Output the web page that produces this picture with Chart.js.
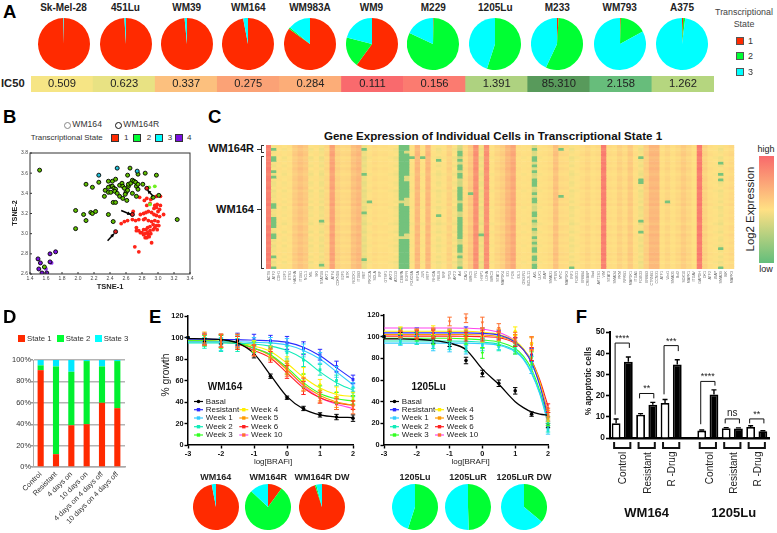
<!doctype html>
<html><head><meta charset="utf-8">
<style>
html,body{margin:0;padding:0;background:#fff;overflow:hidden}
#stage{position:relative;width:777px;height:533px;overflow:hidden;font-family:"Liberation Sans",Arial,sans-serif}
canvas{position:absolute}
.t{position:absolute;white-space:nowrap;line-height:1}
.b{position:absolute}
</style>
<script src="https://cdn.jsdelivr.net/npm/chart.js@4"></script>
</head><body><div id="stage"></div>
<script>
/* ---------- DATA ---------- */
const lineNames=['Sk-Mel-28','451Lu','WM39','WM164','WM983A','WM9','M229','1205Lu','M233','WM793','A375'];
const lineState1=[99.6,99,98.5,97,85,60,0.4,0,1,0.5,0.7];
const lineState2=[0,0,0,0,1,19,81.6,55,56,16.5,1.3];
const lineState3=[0.4,1,1.5,3,14,21,18,45,43,83,98];
const ic50Values=['0.509','0.623','0.337','0.275','0.284','0.111','0.156','1.391','85.310','2.158','1.262'];
const ic50Colors=['#f6e585','#e8e283','#fcc07e','#fba276','#fcad78','#f96a6d','#fb7b70','#aed280','#589a5b','#67bd7b','#b5d67f'];

const subNames=['WM164','WM164R','WM164R DW','1205Lu','1205LuR','1205LuR DW'];
const subState1=[97,10,95,0,0,0];
const subState2=[0,77,1,55,49.5,36];
const subState3=[3,13,4,45,50.5,64];

const tsneRed=[[2.71,2.87],[2.76,2.82],[2.92,2.91],[2.89,2.97],[2.84,2.96],[2.86,2.96],[2.88,2.99],[2.82,2.99],[2.78,3.01],[2.80,3.01],[2.84,3.00],[2.87,3.01],[2.91,3.00],[2.90,3.03],[2.94,3.04],[2.96,3.06],[2.99,3.04],[2.85,3.04],[2.82,3.04],[2.76,3.03],[2.73,3.06],[2.73,3.03],[2.87,3.06],[2.90,3.07],[2.94,3.09],[2.98,3.08],[3.01,3.08],[3.00,3.12],[2.96,3.13],[2.92,3.12],[2.88,3.13],[2.84,3.15],[2.82,3.14],[2.76,3.14],[2.72,3.13],[2.62,3.13],[2.58,3.12],[2.54,3.10],[2.68,3.14],[2.69,3.22],[2.78,3.19],[2.82,3.20],[2.85,3.21],[2.88,3.22],[2.92,3.21],[2.95,3.19],[2.98,3.18],[3.02,3.17],[3.07,3.19],[3.00,3.22],[2.95,3.25],[2.98,3.26],[3.03,3.28],[2.96,3.28],[3.02,3.24],[2.99,3.29],[2.90,3.30],[2.86,3.28],[2.83,3.33],[2.91,3.34],[2.86,3.35],[3.03,3.37],[2.77,3.36],[2.98,3.37]];
const tsneLime=[[2.89,3.46],[2.96,3.47],[2.90,3.29],[2.93,3.36]];
const tsnePurplePlain=[[1.67,2.71],[1.60,2.65]];
const tsneGreenEdge=[[1.52,3.63],[2.10,3.49],[2.18,3.46],[2.26,3.51],[2.38,3.52],[2.43,3.52],[2.47,3.54],[2.41,3.47],[2.38,3.46],[2.34,3.43],[2.33,3.37],[2.38,3.41],[2.41,3.41],[2.43,3.47],[2.45,3.45],[2.47,3.44],[2.46,3.42],[2.49,3.40],[2.52,3.48],[2.55,3.50],[2.56,3.47],[2.58,3.45],[2.60,3.41],[2.62,3.43],[2.59,3.39],[2.63,3.47],[2.63,3.49],[2.66,3.50],[2.68,3.53],[2.70,3.52],[2.72,3.51],[2.73,3.47],[2.75,3.44],[2.75,3.49],[2.68,3.40],[2.73,3.37],[2.52,3.37],[2.56,3.35],[2.61,3.33],[2.44,3.31],[2.47,3.31],[2.62,3.58],[2.65,3.65],[2.75,3.59],[2.84,3.60],[2.98,3.58],[2.81,3.49],[3.01,3.38],[2.94,3.36],[1.97,3.23],[2.07,3.19],[2.16,3.21],[2.18,3.20],[2.22,3.22],[2.38,3.19],[2.10,3.13],[2.44,3.12],[1.97,3.05],[3.24,3.14],[1.58,2.67]];
const tsneCyanEdge=[[2.26,3.58],[2.49,3.65],[2.74,3.62]];
const tsneRedEdge=[[2.86,3.45],[2.68,3.19],[2.47,3.02]];
const tsnePurpleEdge=[[1.50,2.75],[1.53,2.71],[1.51,2.65],[1.65,2.80],[1.72,2.82],[1.65,2.72],[1.55,2.61],[1.61,2.61]];
const tsneArrowTail=[[2.37,2.93],[2.54,3.23],[2.94,3.37]];
const tsneArrowTip=[[2.45,3.00],[2.66,3.19],[2.87,3.43]];

const geneNames=['ACTB','ATF2','CDH1','E2F1','ETS1','HADHA','ITGB1','NCL1','MIL','SKI','STAT5B','AKT1','ATF4','CDKN1B','E2F5','BTK','ROCK1','ITGB3','MET','PIK3CA','SOLA','IRF','GTSF1','AKT3','ATG13','CEBPA','EGFR','FOXO3A','HIF1A','JUN','MITF','RHOA','RELB','SRF','TP53','AKT2','Axl','CAV1','BIRC5','FN1','HSP1','LDHA','BIRC3','STAT1','MAP2K4','ID1','FOS','IDL1','OSGIN1','BCL2L11','AXL','ULK1','XIAP','SMAD1','PTEN','MYC','MAP2K3','IRF1','FOXO1','ERBB4','CREBBP','Bad','AKT1S1','VIM','STAT3','SMAD4','PKM','NFKB1','MAP2K1','ITGA5','FOXO3','ERBB3','CTNNB1','CCND1','ATF1','Wnt1','SMAD5','Bcl2','SOX10','MAPK1','ITGAV','GAPDH','DK1','ATF2','XIAP','SMAD9','BIK','MAPK3'];
const geneLevels=[.92,.45,.52,.48,.52,.63,.68,.64,.47,.52,.45,.57,.8,.6,.56,.57,.68,.72,.42,.5,.55,.52,.53,.5,.47,.03,.03,.5,.72,.5,.72,.5,.46,.5,.6,.47,.32,.55,.65,.86,.45,.86,.5,.58,.62,.72,.78,.53,.5,.52,.35,.5,.52,.55,.68,.56,.55,.46,.5,.54,.58,.52,.55,.92,.55,.53,.6,.55,.64,.53,.45,.62,.72,.72,.53,.58,.52,.57,.63,.58,.52,.93,.6,.53,.5,.46,.53,.56];
const rowTint=[.02,-.01,.01,.03,-.02,0,.02,-.01,.03,0,-.02,.01,.02,-.01,0,.03,-.02,.01,0,.02,-.01,.03,-.02,0,.01,-.01,.02,0,-.03,.02,.01,-.02,.03,0,-.01,.02,-.02,.01,0,.03,-.01,.02,-.02,.01,0];
const lowCol1=[1,4,5,9,11,21,22,26,27,28,29,32,33,40,44];
const lowCol10=[27,43];
const lowCol18=[1,10,24,41];
const lowCol19=[20];
const lowCol27=[4];
const lowCol29=[4];
const lowCol32=[5,25];
const lowCol36=[2,3,5,7,8,10,11,15,16,17,18,19,21,22,23,26,27,28,29,30,31,32,33,36,37,38,40,44];
const lowCol38=[17];
const lowCol40=[32];
const lowCol50=[1,4,5,7,9,12,13,14,17,19,20,24,25,27,30,33,35,37,38,40,41,43,44];
const lowCol55=[1,18];
const lowCol57=[44];
const lowCol70=[4,12,13,27,31];
const lowCol75=[20];
const lowCol85=[6,10,12,37,44];
const paleCol26=[2,11,12,19,20,21,32,33];
const paleCol25=[20,33];

const dStages=['Control','Resistant','4 days on','10 days on','4 days on 4 days off','10 days on 4 days off'];
const dState1=[90.5,12,39,40,60,55];
const dState2=[4.5,82,50,59,34,44];
const dState3=[5,6,11,1,6,1];

const seriesNames=['Basal','Resistant','Week 1','Week 2','Week 3','Week 4','Week 5','Week 6','Week 10'];
const doseMarks=[-3,-2.5,-2,-1.5,-1,-.5,0,.5,1,1.5,2];
const wm164Grid=[-3,-2.5,-2,-1.5,-1,-.5,0,.5,1,1.5,2];
const wm164FitBasal=[99,98.8,98,95,85,65,45,33.5,28,26,25.5];
const wm164FitResistant=[98.5,98.4,98.2,98,97.5,97,95.5,91,83,72,61];
const wm164FitW1=[96,96,96,96,95.5,95,93,88,80,68,56];
const wm164FitW2=[95,95,95,94.5,94,92,88,80,68,58,51];
const wm164FitW3=[97,97,96.5,95,90,84,72,58,48,43,41];
const wm164FitW4=[97,97,96.5,95.5,92,87,76,63,53,47,45];
const wm164FitW5=[97,97,96,94,90,83,70,56,46,40,37];
const wm164FitW6=[97,97,96,94,88,81,67,53,44,39,37];
const wm164FitW10=[97,97,96,94.5,90,84,70,55,44,38,34];
const wm164PtBasal=[100,96,98,97,84,64,44,34,28,26,25];
const wm164PtResistant=[100,99,97,98,98,97,95,90,84,73,61];
const wm164PtW1=[100,97,94,96,95,95,93,88,81,68,54];
const wm164PtW2=[100,95,93,93,92,90,86,79,70,60,49];
const wm164PtW3=[100,97,96,95,91,86,72,60,50,44,42];
const wm164PtW4=[100,98,97,95,92,87,76,66,56,49,45];
const wm164PtW5=[100,100,97,97,88,84,72,57,46,40,37];
const wm164PtW6=[100,98,97,95,88,82,68,53,44,38,37];
const wm164PtW10=[100,98,97,97,88,85,70,56,44,38,33];
const wm164ErrBasal=[0,3,4,4,3,2,1.5,2,2,2.5,3];
const wm164ErrOther=[0,5,6,6,5,5,6,6,5,5,4];

const luGrid=[-3,-2.5,-2,-1.5,-1,-.5,0,.5,1,1.25,1.5,1.75,2];
const luFitBasal=[98,98,97.5,96.5,94,88,70,56,40,34.5,30.5,28.5,27.5];
const luFitResistant=[103.5,103.5,103.5,103.5,103.5,103.5,103,101.5,95,88,76,55,26];
const luFitW1=[94,94,94,94,94,94,93.5,92,86,79,66,47,20];
const luFitW2=[96,96,96,96,96,95.8,95,93,87,80,67,48,22];
const luFitW3=[98.5,98.5,98.5,98.5,98.5,98,97,95,89,82,70,50,24];
const luFitW4=[105,105,105,105,105,105,104,102,96,89,77,57,26];
const luFitW5=[102,102,102,102,102,102,101.5,100,95,88,77,58,29];
const luFitW6=[100.5,100.5,100.5,100.5,100.5,100.3,100,99,94,88,78,60,36];
const luFitW10=[108,108,108,108,108,107.8,107,104,96,88,76,56,30];
const luPtBasal=[100,101,101,97,94,78,66,57,50,28.5,18];
const luPtResistant=[100,104,104,103,103,105,103,102,95,83,26];
const luPtW1=[100,95,97,91,90,88,92,92,88,72,14];
const luPtW2=[100,96,97,93,92,90,94,91,90,76,16];
const luPtW3=[100,105,100,97,100,97,85,96,88,80,22];
const luPtW4=[100,106,103,106,103,103,100,100,105,94,26];
const luPtW5=[100,103,102,103,102,102,103,103,98,93,28];
const luPtW6=[100,102,102,102,101,100,101,101,95,84,34];
const luPtW10=[100,102,103,104,114,117,113,108,100,94,30];
const luErrBasal=[0,3,3,3,3,3,3,3,3,2,2];
const luErrOther=[0,3,4,4,4,4,5,4,4,6,4];

const fBars=[7,36,11,15.7,16.5,34.7,null,3.5,20.5,4.6,4.5,5.2,3.2];
const fErrs=[2,2.2,.5,1.1,1.7,2.2,null,.3,2.2,.3,.3,.6,.2];
const fSlots=['c','c','r','r','d','d','','c','c','r','r','d','d'];
const sigFrom=[0,2,4,7,9,11];
const sigTo=[1,3,5,8,10,12];
const sigTop=[44.8,21,43.6,26.7,9,9];
const sigFootL=[11,18.7,20.6,6.5,6.9,6.9];
const sigFootR=[42.5,18.7,41,24.7,6.9,6.9];
const sigText=['****','**','***','****','ns','**'];

/* ---------- STYLE ---------- */
const RED='#ff2a00',GREEN='#00ff33',CYAN='#00ffff',PURPLE='#7a10e0';
const seriesColors=['#000000','#2a2aff','#33ccff','#10ecb8','#33ff22','#ffee00','#ff9a00','#ff2020','#ff44ee'];
const markColors=['#000000','#2a2aff','#33ccff','#10ecb8','#33ff22','#ffee00','#ff9a00','#ff2020','#ff7030'];
const markStyles=['circle','rect','rect','rect','triangle','rectRot','rect','triangle','triangle'];
const markRot=[0,0,0,0,180,0,0,0,180];
const stage=document.getElementById('stage');
Chart.defaults.animation=false;
Chart.defaults.responsive=false;
Chart.defaults.maintainAspectRatio=false;
Chart.defaults.font.family='"Liberation Sans",Arial,sans-serif';
Chart.defaults.plugins.legend.display=false;
Chart.defaults.plugins.tooltip.enabled=false;

function text(x,y,s,o={}){
  const d=document.createElement('div');d.className='t';d.textContent=s;
  const a=o.align||'center';
  const tx=a==='center'?'-50%':a==='left'?'0':'-100%';
  d.style.cssText=`left:${x}px;top:${y}px;font-size:${o.size||8}px;font-weight:${o.bold?'bold':'normal'};color:${o.color||'#111'};transform:translate(${tx},-50%) rotate(${o.rot||0}deg);`;
  stage.appendChild(d);
}
function box(x,y,w,h,c,extra=''){
  const d=document.createElement('div');d.className='b';
  d.style.cssText=`left:${x}px;top:${y}px;width:${w}px;height:${h}px;background:${c};${extra}`;
  stage.appendChild(d);
}
function canvasAt(x,y,w,h){
  const c=document.createElement('canvas');c.width=w;c.height=h;
  c.style.left=x+'px';c.style.top=y+'px';c.style.width=w+'px';c.style.height=h+'px';
  stage.appendChild(c);return c.getContext('2d');
}
function pie(cx,cy,r,vals){
  const ctx=canvasAt(cx-r,cy-r,2*r,2*r);
  new Chart(ctx,{type:'pie',data:{datasets:[{data:vals,backgroundColor:[RED,GREEN,CYAN],borderWidth:0}]},
    options:{layout:{padding:0}}});
}
function plot(rect,pad,cfg){
  const [x0,y0,x1,y1]=rect;
  const ctx=canvasAt(Math.round(x0-pad.l),Math.round(y0-pad.t),Math.round(x1-x0+pad.l+pad.r),Math.round(y1-y0+pad.t+pad.b));
  const o=cfg.options=cfg.options||{};
  const p={top:pad.t,right:pad.r,left:0,bottom:0};
  const sc=o.scales;
  if(sc.y.display===false)p.left=pad.l;else sc.y.afterFit=s=>{s.width=pad.l;};
  if(sc.x.display===false)p.bottom=pad.b;else sc.x.afterFit=s=>{s.height=pad.b;};
  o.layout={padding:p};
  return new Chart(ctx,cfg);
}
const errorBars={id:'errorBars',afterDatasetsDraw(c){
  const g=c.ctx,ys=c.scales.y;
  c.data.datasets.forEach((d,i)=>{
    if(!d.errs)return;
    const m=c.getDatasetMeta(i);
    g.save();g.strokeStyle=d.errColor||d.pointBackgroundColor||'#000';g.lineWidth=d.errWidth||1;
    m.data.forEach((el,k)=>{
      const e=d.errs[k];if(e==null||!e)return;
      const v=m._parsed[k].y;
      if(v==null)return;
      const t=ys.getPixelForValue(v+e),b=d.errUpOnly?ys.getPixelForValue(v):ys.getPixelForValue(v-e),cw=d.capHalf||2.2;
      g.beginPath();g.moveTo(el.x,t);g.lineTo(el.x,b);
      g.moveTo(el.x-cw,t);g.lineTo(el.x+cw,t);
      if(!d.errUpOnly){g.moveTo(el.x-cw,b);g.lineTo(el.x+cw,b);}
      g.stroke();
    });
    g.restore();
  });
}};

/* ---------- PANEL A ---------- */
text(3,11.5,'A',{size:18.5,bold:true,color:'#000',align:'left'});
const pieX=[63.5,125.5,186.7,248.3,310,371.5,433.3,495.3,557.3,619.7,682];
lineNames.forEach((n,i)=>{
  text(pieX[i],8.3,n,{size:10,bold:true,color:'#222'});
  pie(pieX[i],43.7,26,[lineState1[i],lineState2[i],lineState3[i]]);
});
text(1,84,'IC50',{size:11.2,bold:true,align:'left',color:'#222'});
plot([31,76,714,92],{l:0,t:0,r:0,b:0},{type:'bar',
  data:{labels:lineNames,datasets:[{data:ic50Values.map(()=>[0,1]),backgroundColor:ic50Colors,borderWidth:0,barPercentage:1,categoryPercentage:1}]},
  options:{scales:{x:{display:false},y:{display:false,min:0,max:1}}}});
ic50Values.forEach((v,i)=>text(31+683*(i+.5)/11,84,v,{size:11.2,color:'#222'}));
text(744,12,'Transcriptional',{size:8.9,color:'#444'});
text(744,24,'State',{size:8.9,color:'#444'});
[[RED,'1',40.7],[GREEN,'2',56],[CYAN,'3',72]].forEach(a=>{
  box(735.5,a[2]-4,8,8,a[0],'border:.5px solid #555;box-sizing:border-box;');
  text(748,a[2],a[1],{size:9,color:'#333',align:'left'});
});

/* ---------- PANEL B ---------- */
text(3,116.7,'B',{size:18.5,bold:true,color:'#000',align:'left'});
box(64.2,121.5,5,5,'#fff','border:.8px solid #888;border-radius:50%;');
text(72.3,124,'WM164',{size:8.6,color:'#333',align:'left'});
box(114.8,121.5,5,5,'#fff','border:1px solid #111;border-radius:50%;');
text(123.3,124,'WM164R',{size:8.6,color:'#333',align:'left'});
text(30.7,137.7,'Transcriptional State',{size:7.9,color:'#333',align:'left'});
[[RED,111,'1',124],[GREEN,133,'2',146.7],[CYAN,155,'3',167.7],[PURPLE,174.7,'4',187]].forEach(a=>{
  box(a[1],133.7,8,8,a[0],'border:.5px solid #333;box-sizing:border-box;');
  text(a[3],137.7,a[2],{size:8,color:'#333',align:'left'});
});
const arrows={id:'arrows',afterDraw(c){
  const g=c.ctx,X=c.scales.x,Y=c.scales.y,A=c.chartArea;
  g.save();g.strokeStyle='#333';g.lineWidth=1;g.strokeRect(A.left,A.top,A.width,A.height);
  X.ticks.forEach(t=>{const p=X.getPixelForValue(t.value);g.beginPath();g.moveTo(p,A.bottom);g.lineTo(p,A.bottom-2);g.stroke();});
  Y.ticks.forEach(t=>{const p=Y.getPixelForValue(t.value);g.beginPath();g.moveTo(A.left,p);g.lineTo(A.left+2,p);g.stroke();});
  g.strokeStyle='#000';g.fillStyle='#000';g.lineWidth=1.5;
  tsneArrowTail.forEach((a,i)=>{
    const x0=X.getPixelForValue(a[0]),y0=Y.getPixelForValue(a[1]),x1=X.getPixelForValue(tsneArrowTip[i][0]),y1=Y.getPixelForValue(tsneArrowTip[i][1]);
    const an=Math.atan2(y1-y0,x1-x0);
    g.beginPath();g.moveTo(x0,y0);g.lineTo(x1,y1);g.stroke();
    g.beginPath();g.moveTo(x1,y1);g.lineTo(x1-4*Math.cos(an-.5),y1-4*Math.sin(an-.5));g.lineTo(x1-4*Math.cos(an+.5),y1-4*Math.sin(an+.5));g.closePath();g.fill();
  });
  g.restore();
}};
function scat(data,fill,edge,r,order){return {data,backgroundColor:fill,borderColor:edge||fill,borderWidth:edge?0.9:0,pointRadius:r,order};}
plot([29.7,151.7,189.3,273.3],{l:20,t:4,r:8,b:10},{type:'scatter',
  data:{datasets:[
    scat(tsneRedEdge,'#e02020','#000',2,1),
    scat(tsneCyanEdge,'#20c0d8','#000',2,2),
    scat(tsnePurpleEdge,PURPLE,'#000',2,3),
    scat(tsneGreenEdge,'#60c000','#000',2,4),
    scat(tsneLime,'#70f020',null,1.9,5),
    scat(tsnePurplePlain,'#9030f0',null,1.9,6),
    scat(tsneRed,'#ff2418',null,1.9,7)
  ]},
  options:{plugins:{},scales:{
    x:{type:'linear',min:1.4,max:3.4,grid:{display:false,drawTicks:false},border:{display:false},ticks:{stepSize:.2,font:{size:5},color:'#444',padding:2,maxRotation:0,autoSkip:false}},
    y:{type:'linear',min:2.6,max:3.8,grid:{display:false,drawTicks:false},border:{display:false},ticks:{stepSize:.2,font:{size:5},color:'#444',padding:2,autoSkip:false}}
  }},plugins:[arrows]});
text(110,287.3,'TSNE-1',{size:7.5,bold:true,color:'#222'});
text(14.7,213,'TSNE-2',{size:7.2,bold:true,color:'#222',rot:-90});

/* ---------- PANEL C ---------- */
text(208,116.7,'C',{size:18.5,bold:true,color:'#000',align:'left'});
text(493,136,'Gene Expression of Individual Cells in Transcriptional State 1',{size:11.6,bold:true,color:'#111'});
text(254,148,'WM164R',{size:11,bold:true,align:'right',color:'#111'});
text(254,208.7,'WM164',{size:11,bold:true,align:'right',color:'#111'});
[[261,156,1,112.6],[261,156,3,1],[261,268,3,1],[257,208.5,4,1],[261,145,1,7],[261,145,3,1],[261,152,3,1],[257,148.5,4,1]].forEach(b=>box(b[0],b[1],b[2],b[3],'#333'));
const lowByCol={1:lowCol1,10:lowCol10,18:lowCol18,19:lowCol19,27:lowCol27,29:lowCol29,32:lowCol32,36:lowCol36,38:lowCol38,40:lowCol40,50:lowCol50,55:lowCol55,57:lowCol57,70:lowCol70,75:lowCol75,85:lowCol85};
const paleByCol={25:paleCol25,26:paleCol26};
function heatColor(v){
  const s=[[99,190,123],[254,226,132],[248,105,107]];
  v=Math.max(0,Math.min(1,v));
  const i=v<.5?0:1;
  let f=v<.5?v*2:(v-.5)*2;
  f=i?Math.pow(f,1.35):Math.pow(f,.8);
  const m=k=>Math.round(s[i][k]+(s[i+1][k]-s[i][k])*f);
  return `rgb(${m(0)},${m(1)},${m(2)})`;
}
const heatRows=rowTint.map((tint,r)=>geneLevels.map((lvl,c)=>{
  if(lowByCol[c]&&lowByCol[c].includes(r))return .04;
  if(paleByCol[c]&&paleByCol[c].includes(r))return .38;
  return lvl<.1?lvl:lvl+tint;
}));
plot([266,145.3,737.7,269],{l:0,t:0,r:0,b:18},{type:'bar',
  data:{labels:geneNames,datasets:heatRows.map(row=>({data:row.map(()=>1),backgroundColor:row.map(heatColor),borderWidth:0,barPercentage:1,categoryPercentage:1}))},
  options:{scales:{
    x:{stacked:true,grid:{display:false,drawTicks:false},border:{display:false},ticks:{autoSkip:false,minRotation:90,maxRotation:90,font:{size:3.6},color:'#666',padding:2}},
    y:{display:false,stacked:true,reverse:true,min:0,max:heatRows.length}
  }}});
box(758.7,156,15.3,106.7,'linear-gradient(to bottom,#f8696b,#ffe084 50%,#63be7b)');
text(766,149.3,'high',{size:9,color:'#222'});
text(766,269,'low',{size:9,color:'#222'});
text(751,209,'Log2 Expression',{size:11.4,color:'#222',rot:-90});

/* ---------- PANEL D ---------- */
text(3,317,'D',{size:18.5,bold:true,color:'#000',align:'left'});
[[RED,18.3,27,'State 1'],[GREEN,57.3,65.7,'State 2'],[CYAN,95.3,103.7,'State 3']].forEach(a=>{
  box(a[1],335,6.7,7,a[0]);
  text(a[2],338.6,a[3],{size:7.8,color:'#333',align:'left'});
});
plot([33,360.3,125,467.7],{l:30,t:5,r:4,b:62},{type:'bar',
  data:{labels:dStages,datasets:[
    {data:dState1,backgroundColor:RED,borderWidth:0},
    {data:dState2,backgroundColor:'#00f030',borderWidth:0},
    {data:dState3,backgroundColor:'#00e8ff',borderWidth:0}
  ].map(d=>Object.assign(d,{barPercentage:.4,categoryPercentage:1}))},
  options:{scales:{
    x:{stacked:true,grid:{display:false,drawOnChartArea:false,tickLength:2,tickColor:'#999'},border:{color:'#aaa',width:1.5},ticks:{autoSkip:false,minRotation:45,maxRotation:45,font:{size:7.4},color:'#333',padding:1}},
    y:{stacked:true,min:0,max:100,grid:{color:'#b4b4b4',lineWidth:1.4,tickLength:2,tickColor:'#999'},border:{color:'#aaa'},ticks:{stepSize:10,font:{size:7.4},color:'#333',padding:0,callback:v=>v+'%'}}
  }}});

/* ---------- PANEL E ---------- */
text(149,317,'E',{size:18.5,bold:true,color:'#000',align:'left'});
const legendRows=[[0,0,0],[1,0,1],[2,0,2],[3,0,3],[4,0,4],[5,1,1],[6,1,2],[7,1,3],[8,1,4]];
function doseChart(rect,grid,fits,pts,errB,errO,legendX,pad){
  const ds=[];
  fits.forEach((f,i)=>{
    ds.push({data:f.map((y,k)=>({x:grid[k],y})),borderColor:seriesColors[i],borderWidth:i?1.1:1.3,pointRadius:0,cubicInterpolationMode:'monotone',clip:false,showLine:true});
    ds.push({data:pts[i].map((y,k)=>({x:doseMarks[k],y})),showLine:false,pointRadius:i===0?1.8:2,pointStyle:markStyles[i],rotation:markRot[i],pointBackgroundColor:markColors[i],pointBorderColor:markColors[i],pointBorderWidth:0,clip:false,errs:i?errO:errB,errColor:markColors[i]});
  });
  const legend={id:'doseLegend',afterDraw(c){
    const g=c.ctx,ox=Math.round(rect[0]-pad.l),oy=Math.round(rect[1]-pad.t);
    g.save();g.font='8px "Liberation Sans"';g.textBaseline='middle';
    const rowsY=[401.5,409.7,418,426.7,435];
    seriesNames.forEach((n,i)=>{
      const r=legendRows[i],xx=legendX[r[1]]-ox,yy=rowsY[r[2]]-oy;
      g.strokeStyle=seriesColors[i];g.lineWidth=1.2;
      g.beginPath();g.moveTo(xx,yy);g.lineTo(xx+9,yy);g.stroke();
      g.fillStyle=markColors[i];
      g.beginPath();
      if(markStyles[i]==='circle')g.arc(xx+4.5,yy,1.8,0,7);else g.rect(xx+2.8,yy-1.7,3.4,3.4);
      g.fill();
      g.fillStyle='#222';g.fillText(n,xx+11.8,yy);
    });
    g.restore();
  }};
  plot(rect,pad,{type:'scatter',data:{datasets:ds},options:{scales:{
    x:{type:'linear',min:-3,max:2,grid:{drawOnChartArea:false,tickLength:3.5,tickColor:'#000',tickWidth:1.4},border:{color:'#000',width:1.5},ticks:{stepSize:1,font:{size:7.3,weight:'bold'},color:'#111',padding:1,maxRotation:0}},
    y:{type:'linear',min:0,max:120,grid:{drawOnChartArea:false,tickLength:3.5,tickColor:'#000',tickWidth:1.4},border:{color:'#000',width:1.5},ticks:{stepSize:20,font:{size:7.3,weight:'bold'},color:'#111',padding:1}}
  }},plugins:[errorBars,legend]});
}
doseChart([187.7,316,352.3,445.3],wm164Grid,
  [wm164FitBasal,wm164FitResistant,wm164FitW1,wm164FitW2,wm164FitW3,wm164FitW4,wm164FitW5,wm164FitW6,wm164FitW10],
  [wm164PtBasal,wm164PtResistant,wm164PtW1,wm164PtW2,wm164PtW3,wm164PtW4,wm164PtW5,wm164PtW6,wm164PtW10],
  wm164ErrBasal,wm164ErrOther,[194,239.3],{l:19,t:6,r:7,b:13});
doseChart([384.3,315.3,548.3,445],luGrid,
  [luFitBasal,luFitResistant,luFitW1,luFitW2,luFitW3,luFitW4,luFitW5,luFitW6,luFitW10],
  [luPtBasal,luPtResistant,luPtW1,luPtW2,luPtW3,luPtW4,luPtW5,luPtW6,luPtW10],
  luErrBasal,luErrOther,[390,435],{l:19,t:6,r:7,b:13});
text(165.7,375,'% growth',{size:10.3,color:'#222',rot:-90});
text(273,461.7,'log[BRAFi]',{size:8,color:'#222'});
text(470.7,461.7,'log[BRAFi]',{size:8,color:'#222'});
text(225,387.3,'WM164',{size:10,bold:true,color:'#111'});
text(428.7,386.7,'1205Lu',{size:10,bold:true,color:'#111'});
const subX=[215.7,268.3,322,415,468,524];
subNames.forEach((n,i)=>{
  text(subX[i],476.7,n,{size:9,bold:true,color:'#222'});
  pie(subX[i],506.7,23,[subState1[i],subState2[i],subState3[i]]);
});

/* ---------- PANEL F ---------- */
text(575.7,317,'F',{size:18.5,bold:true,color:'#000',align:'left'});
const brackets={id:'brackets',afterDraw(c){
  const g=c.ctx,X=c.scales.x,Y=c.scales.y,bot=c.chartArea.bottom;
  g.save();g.strokeStyle='#111';g.fillStyle='#222';g.textAlign='center';g.textBaseline='middle';
  sigFrom.forEach((a,i)=>{
    const x0=X.getPixelForValue(a)-1,x1=X.getPixelForValue(sigTo[i])+1,t=Y.getPixelForValue(sigTop[i]);
    g.lineWidth=1;g.beginPath();g.moveTo(x0,Y.getPixelForValue(sigFootL[i]));g.lineTo(x0,t);g.lineTo(x1,t);g.lineTo(x1,Y.getPixelForValue(sigFootR[i]));g.stroke();
    g.font=sigText[i]==='ns'?'10px "Liberation Sans"':'9px "Liberation Sans"';
    g.fillText(sigText[i],(x0+x1)/2,t-(sigText[i]==='ns'?6:4.5));
  });
  g.lineWidth=2;
  [[0,1],[2,3],[4,5],[7,8],[9,10],[11,12]].forEach(p=>{
    const x0=X.getPixelForValue(p[0])-2,x1=X.getPixelForValue(p[1])+2;
    g.beginPath();g.moveTo(x0,bot+4);g.lineTo(x0,bot+10);g.lineTo(x1,bot+10);g.lineTo(x1,bot+4);g.stroke();
  });
  g.restore();
}};
plot([610.3,330.7,769,437.3],{l:22,t:5,r:4,b:14},{type:'bar',
  data:{labels:fSlots,datasets:[{data:fBars,backgroundColor:fBars.map((v,i)=>i%2===(i>6?1:0)?'#fff':'#000'),borderColor:'#000',borderWidth:1.8,barPercentage:.72,categoryPercentage:1,errs:fErrs,errColor:'#000',errWidth:1.4,errUpOnly:true,capHalf:2.5}]},
  options:{scales:{
    x:{grid:{display:false},border:{color:'#000',width:2.4},ticks:{display:false}},
    y:{min:0,max:50,grid:{drawOnChartArea:false,tickLength:4,tickColor:'#000',tickWidth:1.6},border:{color:'#000',width:2},ticks:{stepSize:10,font:{size:8.4,weight:'bold'},color:'#111',padding:1}}
  }},plugins:[errorBars,brackets]});
text(588,381,'% apoptotic cells',{size:8.4,bold:true,color:'#222',rot:-90});
[['Control',623,467.7],['Resistant',647.7,472.5],['R -Drug',671.7,469.2],['Control',710,467.7],['Resistant',734.3,472.5],['R -Drug',758.3,469.2]].forEach(a=>text(a[1],a[2],a[0],{size:10,color:'#222',rot:-90}));
text(646.7,511.7,'WM164',{size:13,bold:true,color:'#111'});
text(733.7,511.7,'1205Lu',{size:13,bold:true,color:'#111'});
</script></body></html>
